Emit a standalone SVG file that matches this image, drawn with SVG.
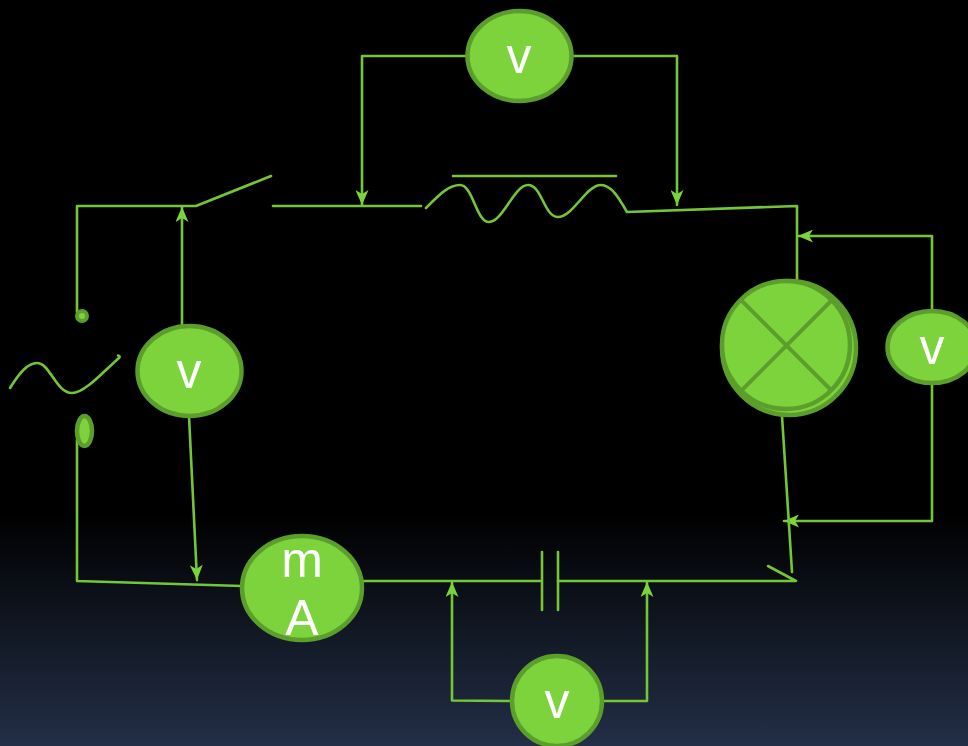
<svg xmlns="http://www.w3.org/2000/svg" width="968" height="746" viewBox="0 0 968 746">
<defs>
<linearGradient id="bg" x1="0" y1="0" x2="0" y2="1"><stop offset="0" stop-color="#000"/><stop offset="0.69" stop-color="#000"/><stop offset="1" stop-color="#232f47"/></linearGradient>
<marker id="arr" markerUnits="userSpaceOnUse" markerWidth="16" markerHeight="13" refX="15" refY="6.500" orient="auto" viewBox="0 0 16 13"><path d="M0 0L15 6.500L0 13L4 6.500Z" fill="#7dd33b"/></marker>
</defs>
<style>
.w{fill:none;stroke:#74c637;stroke-width:2.6;stroke-linecap:round;stroke-linejoin:round}
.a{marker-end:url(#arr)}
.n{fill:#7dd33b;stroke:#5b9e2c;stroke-width:4.500}
.t{fill:#fff;font-family:"Liberation Sans",Arial,sans-serif;text-anchor:middle;font-size:50px}
.x{fill:none;stroke:#5b9e2c;stroke-width:4}
</style>
<rect width="968" height="746" fill="url(#bg)"/>
<g id="connectors">
<path class="w" d="M77 312V206H196L271 176"/>
<path class="w" d="M273 206H421"/>
<path class="w" d="M426 208C438 196 448 185 460 185C473 185 476 222 489 222C503 222 514 185 528 185C542 185 544 217 558 217C573 217 586 185 601 185C612 185 620 200 627 212L797 206V282"/>
<path class="w" d="M453 176H616"/>
<path class="w a" d="M182 325V207"/>
<path class="w a" d="M189 416L197 580"/>
<path class="w a" d="M467 56H362V205"/>
<path class="w a" d="M572 56H677V205"/>
<path class="w a" d="M932 311V236H798"/>
<path class="w a" d="M932 383V521H784"/>
<path class="w" d="M782 416L792 572"/>
<path class="w" d="M768 566L796 581H558"/>
<path class="w" d="M541 581H362"/>
<path class="w" d="M558 552V610M542 552V610"/>
<path class="w" d="M77 440V581L242 586"/>
<path class="w a" d="M512 701L452 700.500V582"/>
<path class="w a" d="M602 701L647 701V582"/>
<path class="w" d="M10 388C20 372 28 363 37 363C50 363 56 393 72 393C85 393 105 370 119 358C120 357 120 356 118 355.500"/>
</g>
<g id="terminal-top"><circle cx="82" cy="316" r="5" fill="#7dd33b" stroke="#5b9e2c" stroke-width="4"/></g>
<g id="terminal-bottom"><ellipse cx="84.500" cy="431" rx="7.500" ry="15" class="n"/></g>
<g id="meter-left"><ellipse cx="189.500" cy="371" rx="52" ry="45" class="n"/><text class="t" x="189" y="388">v</text></g>
<g id="meter-top"><ellipse cx="519.500" cy="56" rx="52" ry="45" class="n"/><text class="t" x="519" y="73">v</text></g>
<g id="meter-right"><ellipse cx="932" cy="347" rx="44.500" ry="36" class="n"/><text class="t" x="932" y="364">v</text></g>
<g id="meter-bottom"><ellipse cx="557" cy="701" rx="45" ry="45" class="n"/><text class="t" x="557" y="718">v</text></g>
<g id="milliammeter"><ellipse cx="302" cy="588" rx="60" ry="52" class="n"/><text class="t" y="577"><tspan x="302">m</tspan><tspan x="302" y="635">A</tspan></text></g>
<g id="lamp"><circle cx="789" cy="348" r="67" class="n"/><circle cx="786" cy="345" r="64" class="n"/><path class="x" d="M741.500 300.500L831.500 390.500M831.500 300.500L741.500 390.500"/></g>
</svg>
